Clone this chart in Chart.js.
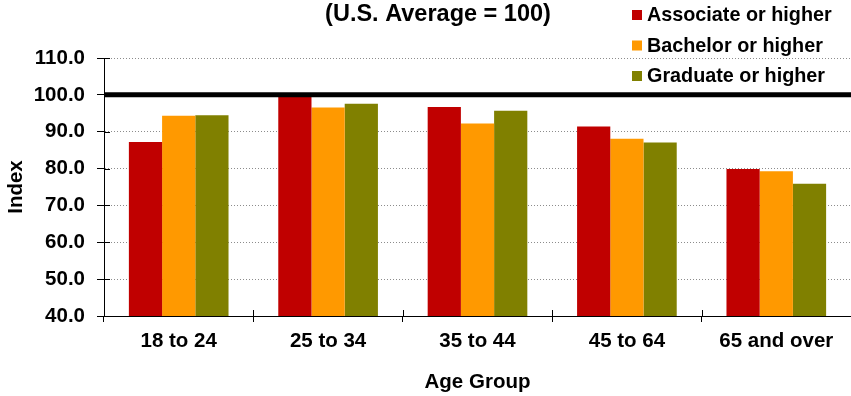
<!DOCTYPE html>
<html>
<head>
<meta charset="utf-8">
<script src="https://cdn.jsdelivr.net/npm/chart.js@4/dist/chart.umd.min.js"></script>
<style>
  html, body { margin: 0; padding: 0; background: #fff; }
  #wrap { width: 851px; height: 396px; position: relative; }
</style>
</head>
<body>
<div id="wrap"><canvas id="c"></canvas></div>
<script>
// Income index by age group and education level
const ageGroups = ['18 to 24', '25 to 34', '35 to 44', '45 to 64', '65 and over'];
const seriesNames = ['Associate or higher', 'Bachelor or higher', 'Graduate or higher'];
const associateIndex = [87.2, 99.6, 96.7, 91.4, 79.9];
const bachelorIndex  = [94.3, 96.6, 92.2, 88.1, 79.3];
const graduateIndex  = [94.5, 97.6, 95.7, 87.1, 75.9];
const seriesColors = ['#C00000', '#FF9900', '#808000'];
const yTickValues = [40, 50, 60, 70, 80, 90, 100, 110];
const usAverage = 100;
const subtitleText = '(U.S. Average = 100)';

const FONT = '"Liberation Sans", Arial, Helvetica, sans-serif';

// Thick reference line at the U.S. average
const averageLine = {
  id: 'averageLine',
  afterDatasetsDraw(chart) {
    const { ctx, chartArea, scales } = chart;
    const y = scales.y.getPixelForValue(usAverage);
    ctx.save();
    ctx.strokeStyle = '#000';
    ctx.lineWidth = 5;
    ctx.beginPath();
    ctx.moveTo(chartArea.left, y);
    ctx.lineTo(chartArea.right, y);
    ctx.stroke();
    ctx.restore();
  }
};

// Tick marks that cross the axes (inner half)
const crossTicks = {
  id: 'crossTicks',
  afterDraw(chart) {
    const { ctx, chartArea, scales } = chart;
    ctx.save();
    ctx.strokeStyle = '#000';
    ctx.lineWidth = 1;
    ctx.beginPath();
    scales.y.ticks.forEach(t => {
      const y = Math.round(scales.y.getPixelForValue(t.value)) + 0.5;
      ctx.moveTo(chartArea.left, y);
      ctx.lineTo(chartArea.left + 6, y);
    });
    for (let i = 0; i <= ageGroups.length; i++) {
      const x = Math.round(scales.x.getPixelForValue(i - 0.5)) + 0.5;
      ctx.moveTo(x, chartArea.bottom);
      ctx.lineTo(x, chartArea.bottom - 6);
    }
    ctx.stroke();
    ctx.restore();
  }
};

// Subtitle and legend block at the top
const header = {
  id: 'header',
  afterDraw(chart) {
    const { ctx } = chart;
    ctx.save();
    ctx.fillStyle = '#000';
    ctx.textBaseline = 'alphabetic';
    ctx.textAlign = 'center';
    ctx.font = 'bold 23.5px ' + FONT;
    ctx.fillText(subtitleText, 438, 21);

    ctx.textAlign = 'left';
    ctx.font = 'bold 19.8px ' + FONT;
    chart.data.datasets.forEach((ds, i) => {
      const base = 21 + i * 30.5;
      ctx.fillStyle = ds.backgroundColor;
      ctx.fillRect(632, base - 11, 10, 10);
      ctx.fillStyle = '#000';
      ctx.fillText(ds.label, 647, base);
    });
    ctx.restore();
  }
};

const tickFont = { family: FONT, size: 20.5, weight: 'bold' };

new Chart(document.getElementById('c'), {
  type: 'bar',
  data: {
    labels: ageGroups,
    datasets: [
      { label: seriesNames[0], data: associateIndex, backgroundColor: seriesColors[0] },
      { label: seriesNames[1], data: bachelorIndex,  backgroundColor: seriesColors[1] },
      { label: seriesNames[2], data: graduateIndex,  backgroundColor: seriesColors[2] }
    ]
  },
  options: {
    responsive: true,
    maintainAspectRatio: false,
    animation: false,
    devicePixelRatio: 1,
    layout: { padding: { top: 58, left: 0, right: 0, bottom: 0 } },
    datasets: {
      bar: { categoryPercentage: 0.667, barPercentage: 1.0, borderWidth: 0 }
    },
    plugins: {
      legend: { display: false },
      title: { display: false },
      tooltip: { enabled: false }
    },
    scales: {
      x: {
        afterFit(scale) { scale.height = 80; },
        grid: {
          offset: true,
          drawOnChartArea: false,
          drawTicks: true,
          tickLength: 6,
          tickColor: '#000',
          tickWidth: 1
        },
        border: { display: true, color: '#000', width: 1 },
        ticks: { color: '#000', font: tickFont, padding: 7, maxRotation: 0, autoSkip: false },
        title: {
          display: true,
          text: 'Age Group',
          color: '#000',
          font: tickFont,
          padding: { top: 0, bottom: 1 }
        }
      },
      y: {
        afterFit(scale) { scale.width = 104; },
        min: yTickValues[0],
        max: yTickValues[yTickValues.length - 1],
        afterBuildTicks(scale) { scale.ticks = yTickValues.map(v => ({ value: v })); },
        grid: {
          color: '#8c8c8c',
          lineWidth: 1,
          drawTicks: true,
          tickLength: 7,
          tickColor: '#000',
          tickWidth: 1,
          tickBorderDash: []
        },
        border: { display: true, color: '#000', width: 1, dash: [1, 2] },
        ticks: {
          color: '#000',
          font: tickFont,
          padding: 12,
          callback: v => Number(v).toFixed(1)
        },
        title: {
          display: true,
          text: 'Index',
          color: '#000',
          font: tickFont,
          padding: { top: 4, bottom: 0 }
        }
      }
    }
  },
  plugins: [averageLine, crossTicks, header]
});
</script>
</body>
</html>
